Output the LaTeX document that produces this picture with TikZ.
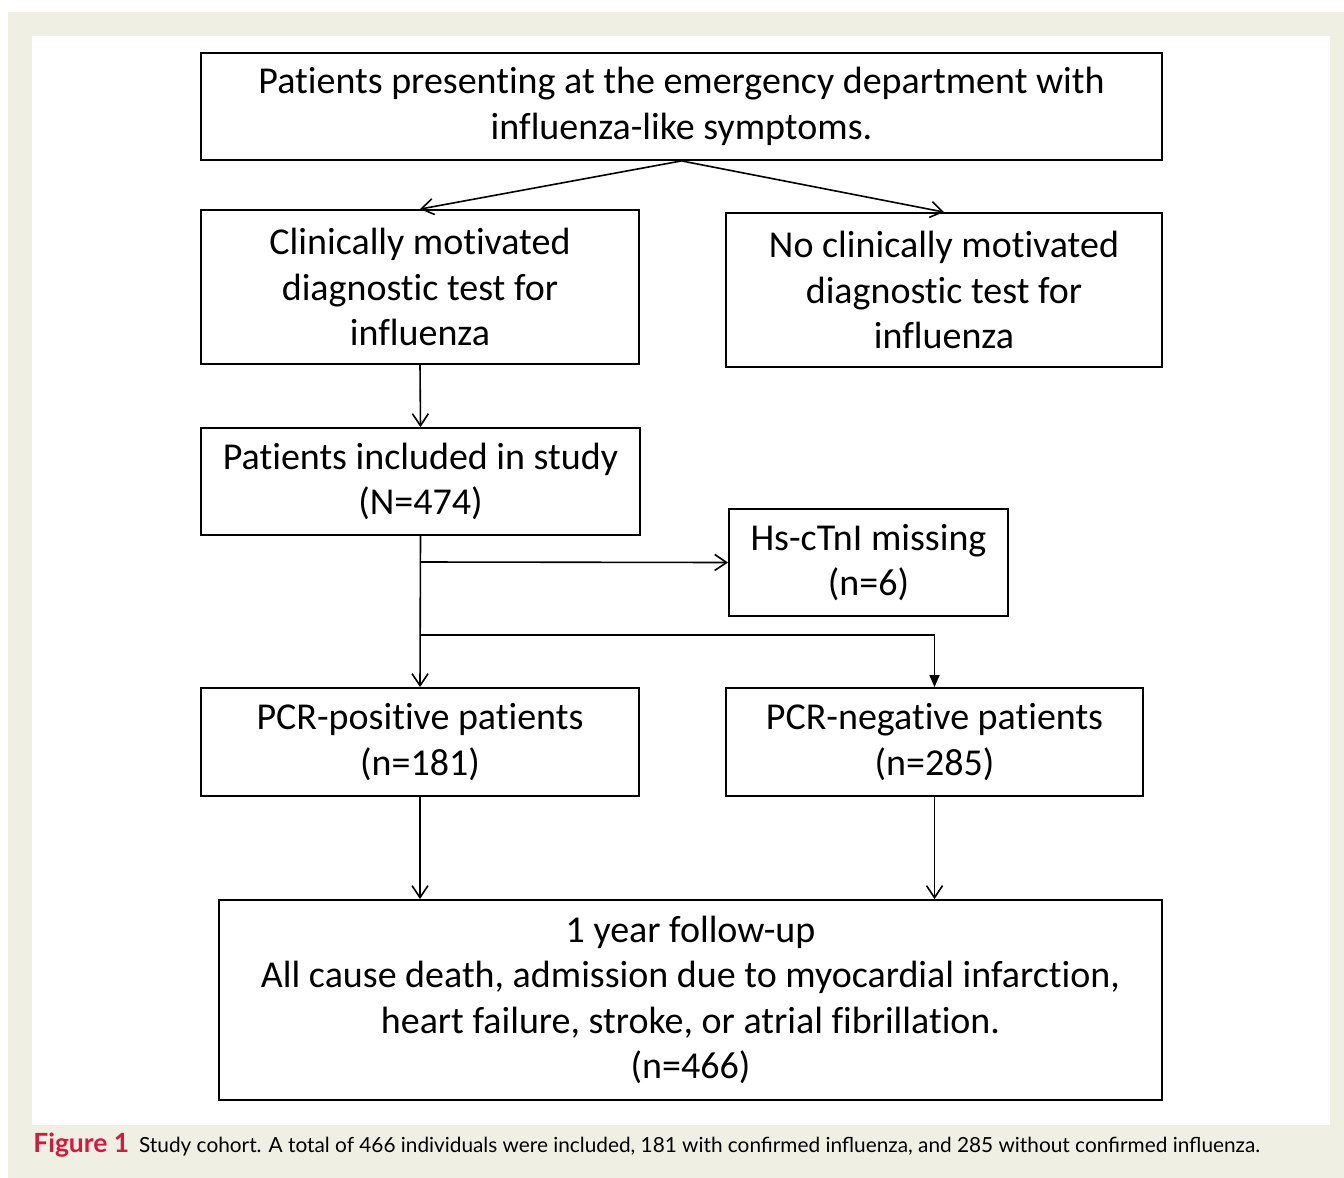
\documentclass[tikz,border=0pt]{standalone}
\usepackage{fontspec}
\setmainfont{Carlito}[Ligatures=NoCommon]
\newfontfamily\captionfont{Lato}
\usetikzlibrary{arrows.meta}
\definecolor{panelbeige}{HTML}{EFEFE3}
\definecolor{figred}{HTML}{D4193F}
\tikzset{
    flow-box/.style = {draw=black, line width=0.9pt, rectangle, inner sep=0pt, align=center, font=\fontsize{19}{22.8}\selectfont},
    open-arrow/.style = {line width=0.8pt, -{Straight Barb[length=6pt,width=8pt]}},
    solid-arrow/.style = {line width=0.8pt, -{Triangle[length=6pt,width=5pt]}},
}
\begin{document}
\begin{tikzpicture}[x=0.5pt,y=-0.5pt]
% page and panel
\fill[white] (0,0) rectangle (1344,1178);
\fill[panelbeige] (8,12) rectangle (1344,1178);
\fill[white] (32,36) rectangle (1330,1125);
% boxes
\node[flow-box, minimum width=480.5pt, minimum height=53.5pt] (patients) at (681.5,106.5) {Patients presenting at the emergency department with\\influenza-like symptoms.};
\node[flow-box, minimum width=219pt, minimum height=77pt] (clinical) at (420,287) {Clinically motivated\\diagnostic test for\\influenza};
\node[flow-box, minimum width=218pt, minimum height=77pt] (noclinical) at (944,290) {No clinically motivated\\diagnostic test for\\influenza};
\node[flow-box, minimum width=219.5pt, minimum height=53.5pt] (included) at (420.5,481.5) {Patients included in study\\(N=474)};
\node[flow-box, minimum width=139.5pt, minimum height=53.5pt] (missing) at (868.5,562.5) {Hs-cTnI missing\\(n=6)};
\node[flow-box, minimum width=219pt, minimum height=54pt] (pcrpos) at (420,742) {PCR-positive patients\\(n=181)};
\node[flow-box, minimum width=208.5pt, minimum height=54pt] (pcrneg) at (934.5,742) {PCR-negative patients\\(n=285)};
\node[flow-box, minimum width=471.5pt, minimum height=100pt] (followup) at (690.5,1000) {1 year follow-up\\All cause death, admission due to myocardial infarction,\\heart failure, stroke, or atrial fibrillation.\\(n=466)};
% connectors
\coordinate (split1) at (421,562);
\coordinate (split2) at (421,635);
\draw[open-arrow] (patients.south) -- (clinical.north);
\draw[open-arrow] (patients.south) -- (noclinical.north);
\draw[open-arrow] (clinical.south) -- (included.north);
\draw[open-arrow] (included.south) -- (pcrpos.north);
\draw[open-arrow] (split1) -- (missing.west);
\draw[solid-arrow] (split2) -| (pcrneg.north);
\draw[open-arrow] (pcrpos.south) -- (pcrpos.south |- followup.north);
\draw[open-arrow] (pcrneg.south) -- (pcrneg.south |- followup.north);
% caption
\node[anchor=base west, inner sep=0pt, font=\captionfont\fontsize{10.4}{12}\selectfont] (caption) at (33,1152) {\textcolor{figred}{\fontsize{13.2}{13}\selectfont\textbf{Figure 1}}\hspace{5pt}Study cohort. A total of 466 individuals were included, 181 with confirmed influenza, and 285 without confirmed influenza.};
\end{tikzpicture}
\end{document}
